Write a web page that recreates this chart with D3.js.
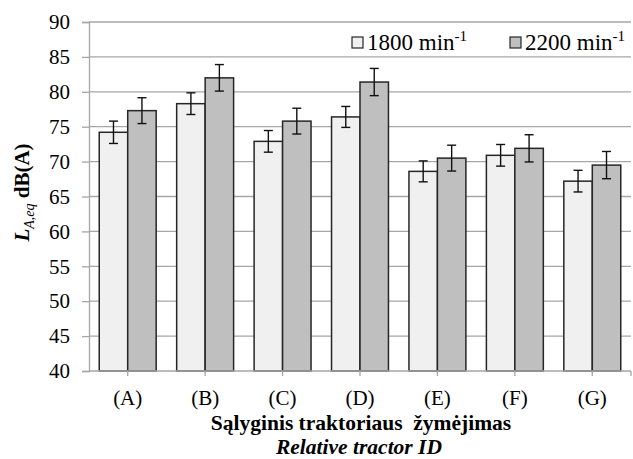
<!DOCTYPE html>
<html>
<head>
<meta charset="utf-8">
<script src="https://cdn.jsdelivr.net/npm/d3@7"></script>
<style>
    html, body { margin: 0; padding: 0; background: #fff; }
    svg { display: block; font-family: "Liberation Serif", "Times New Roman", serif; }
</style>
</head>
<body>
<div id="chart"></div>
<script>
// tractor categories and measured levels, dB(A)
const categories = ['(A)', '(B)', '(C)', '(D)', '(E)', '(F)', '(G)'];
const seriesNames = ['1800', '2200'];
const values1800 = [74.2, 78.3, 72.9, 76.4, 68.6, 70.9, 67.2];
const values2200 = [77.3, 82.0, 75.8, 81.4, 70.5, 71.9, 69.5];
const err1800 = [1.6, 1.55, 1.55, 1.5, 1.5, 1.55, 1.55];
const err2200 = [1.85, 1.9, 1.85, 1.95, 1.85, 1.95, 1.95];
const yTicks = [40, 45, 50, 55, 60, 65, 70, 75, 80, 85, 90];

const colors = { '1800': '#f0f0f0', '2200': '#bfbfbf' };
const serif = '"Liberation Serif", "Times New Roman", serif';

const width = 633;
const height = 459;
const margin = { top: 22, right: 2, bottom: 88, left: 89 };
const chartWidth = width - margin.left - margin.right;
const chartHeight = height - margin.top - margin.bottom;

const svg = d3.select('#chart').append('svg')
    .attr('width', width)
    .attr('height', height);

const g = svg.append('g')
    .attr('transform', 'translate(' + margin.left + ',' + margin.top + ')');

const x = d3.scaleBand()
    .domain(categories)
    .range([0, chartWidth])
    .padding(0);

const sub = d3.scaleBand()
    .domain(seriesNames)
    .range([0, x.bandwidth()])
    .paddingInner(0)
    .paddingOuter(0.36);

const y = d3.scaleLinear()
    .domain([40, 90])
    .range([chartHeight, 0]);

// gridlines
g.append('g')
    .selectAll('line')
    .data(yTicks.filter(d => d > 40))
    .enter()
    .append('line')
    .attr('x1', 0)
    .attr('x2', chartWidth)
    .attr('y1', d => y(d))
    .attr('y2', d => y(d))
    .attr('stroke', '#a6a6a6')
    .attr('stroke-width', 1.3);

// y axis
const yAxis = d3.axisLeft(y).tickValues(yTicks).tickSize(7).tickPadding(12);
const yg = g.append('g').call(yAxis).attr('font-family', serif);
yg.select('.domain').attr('stroke', '#a6a6a6').attr('stroke-width', 1.3);
yg.selectAll('.tick line').attr('stroke', '#a6a6a6').attr('stroke-width', 1.3);
yg.selectAll('text')
    .style('font-family', serif)
    .style('font-size', '21px')
    .style('fill', '#000');

// bars
const rows = categories.map((c, i) => ({
    cat: c,
    items: [
        { s: '1800', v: values1800[i], e: err1800[i] },
        { s: '2200', v: values2200[i], e: err2200[i] }
    ]
}));

const groups = g.selectAll('.grp')
    .data(rows)
    .enter()
    .append('g')
    .attr('class', 'grp')
    .attr('transform', d => 'translate(' + x(d.cat) + ',0)');

groups.selectAll('rect')
    .data(d => d.items)
    .enter()
    .append('rect')
    .attr('x', d => sub(d.s))
    .attr('y', d => y(d.v))
    .attr('width', sub.bandwidth())
    .attr('height', d => y(40) - y(d.v))
    .attr('fill', d => colors[d.s])
    .attr('stroke', '#262626')
    .attr('stroke-width', 1.5);

// error bars
const eb = groups.selectAll('.err')
    .data(d => d.items)
    .enter()
    .append('g')
    .attr('class', 'err')
    .attr('stroke', '#111')
    .attr('stroke-width', 1.4);

eb.append('line')
    .attr('x1', d => sub(d.s) + sub.bandwidth() / 2)
    .attr('x2', d => sub(d.s) + sub.bandwidth() / 2)
    .attr('y1', d => y(d.v + d.e))
    .attr('y2', d => y(d.v - d.e));

eb.selectAll('.cap')
    .data(d => [d.v + d.e, d.v - d.e].map(v => ({ s: d.s, v: v })))
    .enter()
    .append('line')
    .attr('x1', d => sub(d.s) + sub.bandwidth() / 2 - 4.5)
    .attr('x2', d => sub(d.s) + sub.bandwidth() / 2 + 4.5)
    .attr('y1', d => y(d.v))
    .attr('y2', d => y(d.v));

// x axis
g.append('line')
    .attr('x1', 0)
    .attr('x2', chartWidth)
    .attr('y1', chartHeight)
    .attr('y2', chartHeight)
    .attr('stroke', '#a6a6a6')
    .attr('stroke-width', 1.3);

const xTickPos = categories.map(c => x(c) + x.bandwidth() / 2).concat([chartWidth]);
g.append('g')
    .selectAll('line')
    .data(xTickPos)
    .enter()
    .append('line')
    .attr('x1', d => d)
    .attr('x2', d => d)
    .attr('y1', chartHeight)
    .attr('y2', chartHeight + 5)
    .attr('stroke', '#a6a6a6')
    .attr('stroke-width', 1.3);

g.append('g')
    .selectAll('text')
    .data(categories)
    .enter()
    .append('text')
    .attr('x', d => x(d) + x.bandwidth() / 2)
    .attr('y', chartHeight + 34)
    .attr('text-anchor', 'middle')
    .style('font-size', '21px')
    .text(d => d);

// axis titles
svg.append('text')
    .attr('x', 361)
    .attr('y', 430)
    .attr('text-anchor', 'middle')
    .style('font-size', '21.5px')
    .style('font-weight', 'bold')
    .style('white-space', 'pre')
    .text('Sąlyginis traktoriaus  žymėjimas');

svg.append('text')
    .attr('x', 359)
    .attr('y', 454)
    .attr('text-anchor', 'middle')
    .style('font-size', '21.5px')
    .style('font-weight', 'bold')
    .style('font-style', 'italic')
    .text('Relative tractor ID');

const yTitle = svg.append('text')
    .attr('transform', 'translate(29,' + (margin.top + chartHeight / 2 - 4) + ') rotate(-90)')
    .attr('text-anchor', 'middle')
    .style('font-size', '21px')
    .style('font-weight', 'bold');
yTitle.append('tspan').style('font-style', 'italic').text('L');
yTitle.append('tspan').attr('dy', 5).style('font-style', 'italic').style('font-weight', 'normal').style('font-size', '14px').text('A,eq');
yTitle.append('tspan').attr('dy', -5).text(' dB(A)');

// legend
const legendItems = [
    { s: '1800', x: 352 },
    { s: '2200', x: 510 }
];
const lg = svg.append('g');
legendItems.forEach(it => {
    lg.append('rect')
        .attr('x', it.x)
        .attr('y', 37)
        .attr('width', 11)
        .attr('height', 11)
        .attr('fill', colors[it.s])
        .attr('stroke', '#262626')
        .attr('stroke-width', 1.2);
    const t = lg.append('text')
        .attr('x', it.x + 15)
        .attr('y', 50)
        .style('font-size', '23px');
    t.append('tspan').text(it.s + ' min');
    t.append('tspan').attr('dy', -9).style('font-size', '15px').text('-1');
});
</script>
</body>
</html>
